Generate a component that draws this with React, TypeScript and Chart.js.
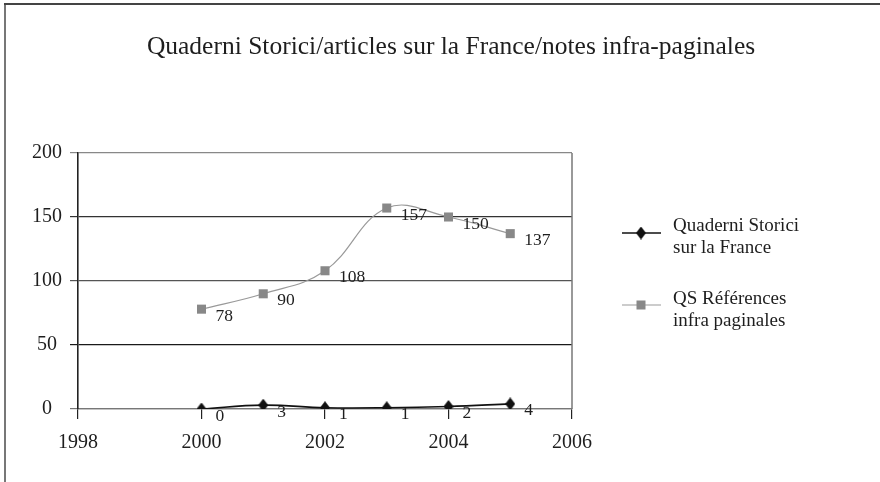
import { useEffect, useRef } from 'react';
import { Chart, registerables } from 'chart.js';

Chart.register(...registerables);

const chartTitle = 'Quaderni Storici/articles sur la France/notes infra-paginales';
const years = [2000, 2001, 2002, 2003, 2004, 2005];
const qsFrance = [0, 3, 1, 1, 2, 4];
const qsRefs = [78, 90, 108, 157, 150, 137];
const legendFrance = ['Quaderni Storici', 'sur la France'];
const legendRefs = ['QS Références', 'infra paginales'];
const xTicks = [1998, 2000, 2002, 2004, 2006];
const yTicks = [0, 50, 100, 150, 200];

const SERIF = '"Liberation Serif", "Times New Roman", serif';
const TEXT = '#1e1e1e';

function makeDiamond(w: number, h: number, color: string) {
  const c = document.createElement('canvas');
  c.width = w;
  c.height = h;
  const g = c.getContext('2d')!;
  g.fillStyle = color;
  g.beginPath();
  g.moveTo(w / 2, 0);
  g.lineTo(w, h / 2);
  g.lineTo(w / 2, h);
  g.lineTo(0, h / 2);
  g.closePath();
  g.fill();
  return c;
}

const gridColors: Record<number, string> = { 0: '#777', 50: '#1a1a1a', 100: '#555', 150: '#333', 200: '#888' };

export default function App() {
  const ref = useRef<HTMLCanvasElement | null>(null);

  useEffect(() => {
    const canvas = ref.current;
    if (!canvas) return;
    const diamond = makeDiamond(10, 13, '#111');

    const framePlugin = {
      id: 'frame',
      beforeDraw(chart: any) {
        const { ctx } = chart;
        ctx.save();
        ctx.fillStyle = '#fff';
        ctx.fillRect(0, 0, chart.width, chart.height);
        ctx.strokeStyle = '#777';
        ctx.lineWidth = 2;
        ctx.beginPath();
        ctx.moveTo(5, 4);
        ctx.lineTo(5, chart.height);
        ctx.stroke();
        ctx.strokeStyle = '#444';
        ctx.beginPath();
        ctx.moveTo(4, 4);
        ctx.lineTo(chart.width, 4);
        ctx.stroke();
        ctx.restore();
      },
      afterDraw(chart: any) {
        const { ctx, chartArea } = chart;
        ctx.save();
        ctx.strokeStyle = '#777';
        ctx.lineWidth = 1.5;
        ctx.beginPath();
        ctx.moveTo(chartArea.right, chartArea.top);
        ctx.lineTo(chartArea.right, chartArea.bottom);
        ctx.stroke();
        ctx.fillStyle = TEXT;
        ctx.font = `25.5px ${SERIF}`;
        ctx.textAlign = 'center';
        ctx.textBaseline = 'middle';
        ctx.fillText(chartTitle, 451, 47);
        ctx.font = `19px ${SERIF}`;
        ctx.textAlign = 'left';
        ctx.strokeStyle = '#111';
        ctx.lineWidth = 1.5;
        ctx.beginPath();
        ctx.moveTo(622, 233);
        ctx.lineTo(661, 233);
        ctx.stroke();
        ctx.drawImage(diamond, 641 - 5, 233 - 6.5);
        ctx.fillText(legendFrance[0], 673, 226);
        ctx.fillText(legendFrance[1], 673, 248);
        ctx.strokeStyle = '#999';
        ctx.lineWidth = 1.2;
        ctx.beginPath();
        ctx.moveTo(622, 305);
        ctx.lineTo(661, 305);
        ctx.stroke();
        ctx.fillStyle = '#888';
        ctx.fillRect(641 - 4.5, 305 - 4.5, 9, 9);
        ctx.fillStyle = TEXT;
        ctx.fillText(legendRefs[0], 673, 299);
        ctx.fillText(legendRefs[1], 673, 321);
        ctx.restore();
      },
    };

    const labelPlugin = {
      id: 'pointLabels',
      afterDatasetsDraw(chart: any) {
        const { ctx } = chart;
        ctx.save();
        ctx.fillStyle = TEXT;
        ctx.font = `17.5px ${SERIF}`;
        ctx.textAlign = 'left';
        ctx.textBaseline = 'middle';
        chart.data.datasets.forEach((ds: any, i: number) => {
          const meta = chart.getDatasetMeta(i);
          meta.data.forEach((pt: any, j: number) => {
            ctx.fillText(String(ds.data[j].y), pt.x + 14, pt.y + 7);
          });
        });
        ctx.restore();
      },
    };

    const chart = new Chart(canvas, {
      type: 'line',
      data: {
        datasets: [
          {
            label: legendRefs.join(' '),
            data: years.map((y, i) => ({ x: y, y: qsRefs[i] })),
            borderColor: '#999',
            borderWidth: 1.2,
            tension: 0.4,
            pointStyle: 'rect',
            pointRadius: 6.4,
            pointBackgroundColor: '#888',
            pointBorderColor: '#888',
            pointBorderWidth: 0,
          },
          {
            label: legendFrance.join(' '),
            data: years.map((y, i) => ({ x: y, y: qsFrance[i] })),
            borderColor: '#111',
            borderWidth: 1.6,
            tension: 0.4,
            pointStyle: diamond as any,
            pointRadius: 5,
          },
        ],
      },
      options: {
        responsive: false,
        animation: false,
        devicePixelRatio: 1,
        layout: { padding: { left: 0, right: 308, top: 153, bottom: 0 } },
        plugins: {
          legend: { display: false },
          title: { display: false },
          tooltip: { enabled: false },
        },
        scales: {
          x: {
            type: 'linear',
            min: xTicks[0],
            max: xTicks[xTicks.length - 1],
            ticks: {
              stepSize: xTicks[1] - xTicks[0],
              color: TEXT,
              font: { family: SERIF, size: 20 },
              padding: 12,
              callback: (v: any) => String(v),
              maxRotation: 0,
            },
            grid: { drawOnChartArea: false, drawTicks: true, tickLength: 10, color: '#222', lineWidth: 1.2 },
            border: { display: true, color: '#777', width: 1.2 },
            afterFit: (s: any) => {
              s.height = 482 - 409;
            },
          },
          y: {
            type: 'linear',
            min: yTicks[0],
            max: yTicks[yTicks.length - 1],
            ticks: {
              stepSize: yTicks[1] - yTicks[0],
              color: TEXT,
              font: { family: SERIF, size: 20 },
              padding: 8,
              crossAlign: 'center',
            },
            grid: {
              drawTicks: true,
              tickLength: 8,
              color: (c: any) => gridColors[c.tick?.value] ?? '#444',
              lineWidth: 1.2,
            },
            border: { display: true, color: '#222', width: 1.6 },
            afterFit: (s: any) => {
              s.width = 78;
            },
          },
        },
      },
      plugins: [framePlugin, labelPlugin],
    } as any);

    return () => chart.destroy();
  }, []);

  return (
    <div style={{ position: 'absolute', left: 0, top: 0, width: 880, height: 482, background: '#fff' }}>
      <canvas ref={ref} width={880} height={482} style={{ display: 'block', width: 880, height: 482 }} />
    </div>
  );
}
